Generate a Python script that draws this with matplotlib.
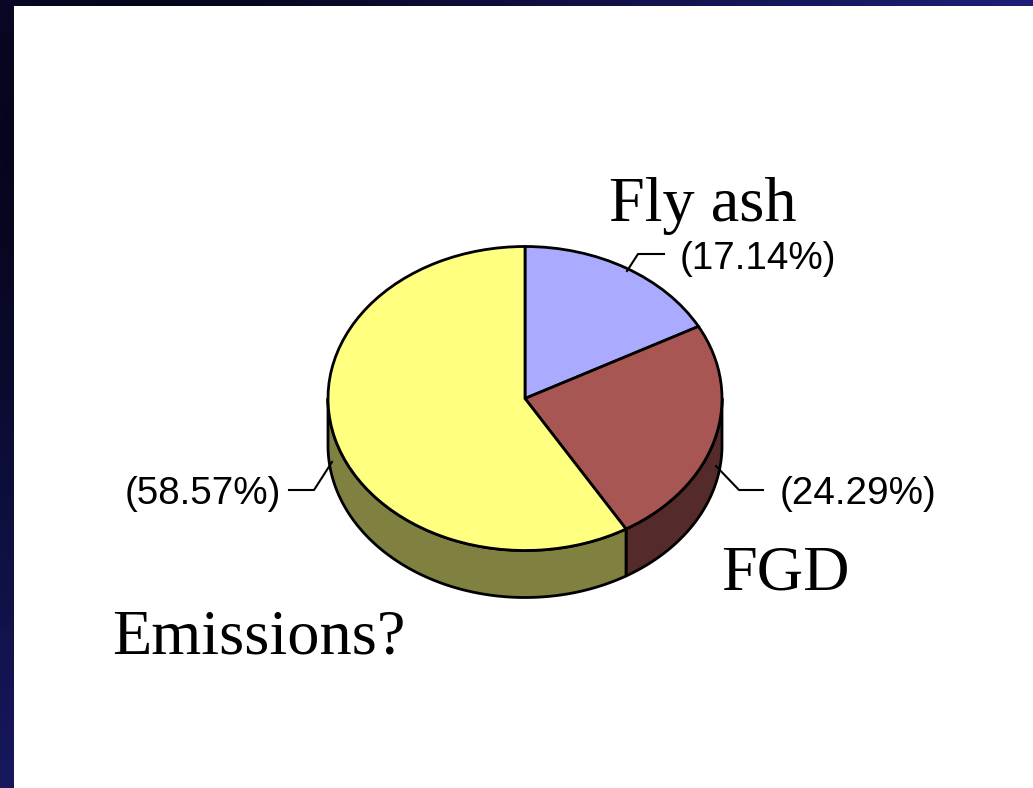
import numpy as np
import matplotlib
matplotlib.use("Agg")
import matplotlib.pyplot as plt
from matplotlib.patches import Polygon, Rectangle
from matplotlib.transforms import Affine2D

# Share of each stream (percent)
categories = ["Fly ash", "FGD", "Emissions?"]
shares = [17.14, 24.29, 58.57]
top_colors = ["#AAAAFF", "#A85654", "#FFFF80"]
side_colors = ["#55557F", "#552A2A", "#808040"]

W, H = 1033, 788
fig = plt.figure(figsize=(W / 100, H / 100), dpi=100)

# Slide background: dark navy gradient with a white content panel
bg = fig.add_axes([0, 0, 1, 1])
yy, xx = np.mgrid[0:H, 0:W]
dist = np.hypot(xx - 150.0, yy - 140.0)
t = np.clip(dist / 950.0, 0, 1) ** 0.9
img = np.zeros((H, W, 3))
img[..., 0] = 0.125 * t
img[..., 1] = 0.125 * t
img[..., 2] = 0.03 + 0.47 * t
bg.imshow(img, extent=(0, W, H, 0), aspect="auto", interpolation="bilinear")
bg.add_patch(Rectangle((14, 6), W - 14, H - 6, facecolor="white", edgecolor="none"))
bg.set_xlim(0, W)
bg.set_ylim(H, 0)
bg.axis("off")

ax = fig.add_axes([0, 0, 1, 1])
ax.set_xlim(0, W)
ax.set_ylim(H, 0)
ax.axis("off")
ax.patch.set_alpha(0)

# Pie geometry (pixels)
cx, cy, rx, ry, depth = 525.0, 398.5, 197.0, 152.0, 47.0
pie_tf = Affine2D().scale(rx, -ry).translate(cx, cy) + ax.transData
d = depth / ry
edge_lw = 2.0

# Side walls of the tilted pie (only the front half is visible)
fracs = np.array(shares) / sum(shares)
edges = np.concatenate([[0], np.cumsum(fracs)]) * 360.0
for i in range(len(shares)):
    a0, a1 = max(edges[i], 90.0), min(edges[i + 1], 270.0)
    if a1 <= a0:
        continue
    tt = np.radians(np.linspace(a0, a1, 120))
    xs, ys = np.sin(tt), np.cos(tt)
    pts = np.concatenate([np.column_stack([xs, ys]),
                          np.column_stack([xs[::-1], ys[::-1] - d])])
    ax.add_patch(Polygon(pts, closed=True, facecolor=side_colors[i],
                         edgecolor="black", linewidth=edge_lw, joinstyle="round",
                         transform=pie_tf, zorder=2))

# Top face
wedges, _ = ax.pie(shares, colors=top_colors, startangle=90, counterclock=False,
                   radius=1.0, center=(0, 0), frame=True,
                   wedgeprops=dict(edgecolor="black", linewidth=edge_lw))
for w in wedges:
    w.set_transform(pie_tf)
    w.set_zorder(3)
ax.set_xlim(0, W)
ax.set_ylim(H, 0)
ax.set_aspect("auto")
ax.axis("off")

# Percentage labels with leader lines
pct_font = dict(family="Liberation Sans", fontsize=27.8, color="black", va="center")
leaders = [
    [(627, 271), (638, 254), (664, 254)],
    [(716, 466), (739, 490), (763, 490)],
    [(332, 462), (314, 490), (289, 490)],
]
label_pos = [(680, 259, "left"), (780, 494, "left"), (281, 494, "right")]
for pts, (lx, ly, ha), v in zip(leaders, label_pos, shares):
    px, py = zip(*pts)
    ax.plot(px, py, color="black", linewidth=1.5, zorder=4)
    ax.text(lx, ly, f"({v:.2f}%)", ha=ha, **pct_font)

# Category names
name_font = dict(family="Liberation Serif", fontsize=46.3, color="black", va="baseline")
name_pos = [(609, 221), (721, 589), (112, 654)]
for (nx, ny), name in zip(name_pos, categories):
    ax.text(nx, ny, name, ha="left", **name_font)

fig.savefig("out.png", dpi=100)
